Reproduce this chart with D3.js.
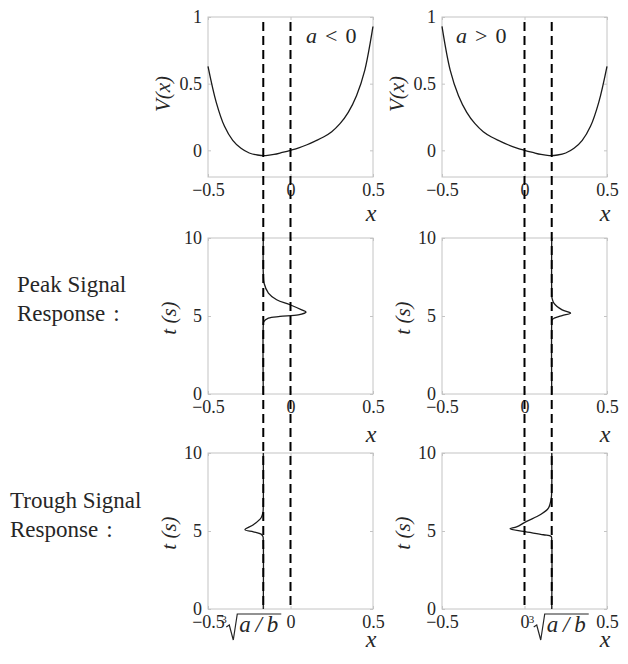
<!DOCTYPE html>
<html>
<head>
<meta charset="utf-8">
<script src="https://cdn.jsdelivr.net/npm/d3@7"></script>
</head>
<body style="margin:0;background:#fff">
<svg id="svg" width="628" height="664"></svg>
<script>
// potential V(x)
const potX   = [-0.5, -0.45, -0.4, -0.35, -0.3, -0.25, -0.2, -0.15, -0.1, -0.05, 0, 0.05, 0.1, 0.15, 0.2, 0.25, 0.3, 0.35, 0.4, 0.45, 0.5];
const potNeg = [0.63, 0.36, 0.18, 0.075, 0.015, -0.02, -0.035, -0.039, -0.031, -0.016, 0, 0.018, 0.042, 0.07, 0.1, 0.14, 0.2, 0.285, 0.41, 0.6, 0.93];
const potPos = [0.93, 0.6, 0.41, 0.285, 0.2, 0.14, 0.1, 0.07, 0.042, 0.018, 0, -0.016, -0.031, -0.039, -0.035, -0.02, 0.015, 0.075, 0.18, 0.36, 0.63];

// cube root of a/b (minimum of V)
const rootNeg = -0.165;
const rootPos = 0.165;

// responses: time t (s) and position x
const peakNegT   = [0, 4.4, 4.64, 4.86, 4.97, 5.07, 5.25, 5.39, 5.72, 6.04, 6.47, 7.1, 7.75, 10];
const peakNegX   = [-0.165, -0.165, -0.162, -0.134, -0.064, 0.047, 0.094, 0.068, -0.003, -0.084, -0.134, -0.16, -0.165, -0.165];
const peakPosT   = [0, 4.5, 4.75, 4.86, 5.03, 5.18, 5.39, 5.82, 6.15, 6.5, 10];
const peakPosX   = [0.165, 0.165, 0.167, 0.18, 0.228, 0.279, 0.228, 0.178, 0.167, 0.165, 0.165];
const troughNegT = [0, 4.4, 4.65, 4.8, 4.95, 5.08, 5.4, 5.85, 6.2, 6.6, 10];
const troughNegX = [-0.165, -0.165, -0.167, -0.178, -0.225, -0.276, -0.225, -0.178, -0.167, -0.165, -0.165];
const troughPosT = [0, 4.4, 4.65, 4.76, 4.97, 5.14, 5.26, 5.62, 6.04, 6.47, 7.1, 7.6, 10];
const troughPosX = [0.165, 0.165, 0.162, 0.115, -0.007, -0.088, -0.048, 0.013, 0.095, 0.145, 0.162, 0.165, 0.165];

const xTicks = [-0.5, 0, 0.5];
const vTicks = [0, 0.5, 1];
const tTicks = [0, 5, 10];

const FONT = "Liberation Serif";
const svg = d3.select("#svg");
const colX = [208, 442], panelW = 165;
const rows = [
  {top: 17,  h: 160, dom: [-0.2, 1], ticks: vTicks, title: "V(x)",  tx: -38, ty: -3, xLab: 44},
  {top: 238, h: 156, dom: [0, 10],   ticks: tTicks, title: "t (s)", tx: -32, ty: 2,  xLab: 48},
  {top: 453, h: 156, dom: [0, 10],   ticks: tTicks, title: "t (s)", tx: -32, ty: 2,  xLab: 38}
];

const panels = [
  {col: 0, row: 0, root: rootNeg, pot: potNeg, sign: "<", noteX: 98},
  {col: 1, row: 0, root: rootPos, pot: potPos, sign: ">", noteX: 14},
  {col: 0, row: 1, root: rootNeg, t: peakNegT, xs: peakNegX},
  {col: 1, row: 1, root: rootPos, t: peakPosT, xs: peakPosX},
  {col: 0, row: 2, root: rootNeg, t: troughNegT, xs: troughNegX, rootShift: -42},
  {col: 1, row: 2, root: rootPos, t: troughPosT, xs: troughPosX, rootShift: -23}
];

const x = d3.scaleLinear().domain([-0.5, 0.5]).range([0, panelW]);
const fmt = d => d === 0 ? "0" : (Number.isInteger(d) ? String(d) : d3.format(".1f")(d));

function styleAxis(a) {
  a.attr("font-size", 18).attr("font-family", FONT).attr("color", "#262626");
  a.select(".domain").remove();
  a.selectAll(".tick line").attr("stroke", "#c4c4c4");
}

function rootLabel(g, px, base) {
  const L = g.append("g").attr("transform", `translate(${px},${base})`);
  L.append("text").attr("x", 0).attr("y", -9).attr("font-size", 11).text("3");
  L.append("path").attr("d", "M5,-5 L8,-7 L12,8 L16,-18 L60,-18")
    .attr("fill", "none").attr("stroke", "#262626").attr("stroke-width", 1.2);
  L.append("text").attr("x", 18).attr("y", 0).attr("font-size", 23)
    .attr("font-style", "italic").attr("textLength", 39).attr("lengthAdjust", "spacing").text("a/b");
}

panels.forEach(p => {
  const r = rows[p.row];
  const y = d3.scaleLinear().domain(r.dom).range([r.h, 0]);
  const g = svg.append("g").attr("transform", `translate(${colX[p.col]},${r.top})`);

  g.append("rect").attr("width", panelW).attr("height", r.h)
    .attr("fill", "none").attr("stroke", "#c4c4c4");

  const xt = p.row === 2 ? [-0.5, p.root, 0, 0.5].sort((a, b) => a - b) : xTicks;
  g.append("g").attr("transform", `translate(0,${r.h})`)
    .call(d3.axisBottom(x).tickValues(xt).tickSizeInner(-3).tickSizeOuter(0).tickPadding(6)
      .tickFormat(d => d === p.root ? "" : fmt(d)))
    .call(styleAxis);
  g.append("g")
    .call(d3.axisTop(x).tickValues(xt).tickSizeInner(-3).tickSizeOuter(0).tickFormat(""))
    .call(styleAxis);
  g.append("g")
    .call(d3.axisLeft(y).tickValues(r.ticks).tickSizeInner(-3).tickSizeOuter(0).tickPadding(6).tickFormat(fmt))
    .call(styleAxis);
  g.append("g").attr("transform", `translate(${panelW},0)`)
    .call(d3.axisRight(y).tickValues(r.ticks).tickSizeInner(-3).tickSizeOuter(0).tickFormat(""))
    .call(styleAxis);

  if (p.rootShift !== undefined) rootLabel(g, x(p.root) + p.rootShift, r.h + 23);

  // curve
  const pts = p.pot ? potX.map((v, i) => [v, p.pot[i]]) : p.t.map((t, i) => [p.xs[i], t]);
  g.append("path").datum(pts)
    .attr("fill", "none").attr("stroke", "#1a1a1a").attr("stroke-width", 1.3)
    .attr("d", d3.line().x(d => x(d[0])).y(d => y(d[1])).curve(d3.curveCatmullRom.alpha(0.5)));

  // titles
  g.append("text").attr("x", 163).attr("y", r.h + r.xLab).attr("text-anchor", "middle")
    .attr("font-size", 24).attr("font-style", "italic").text("x");
  g.append("text").attr("transform", `translate(${r.tx},${r.h / 2 + r.ty}) rotate(-90)`)
    .attr("text-anchor", "middle").attr("font-size", 21).attr("font-style", "italic").text(r.title);

  if (p.sign) {
    const n = g.append("text").attr("x", p.noteX).attr("y", 26).attr("font-size", 22);
    n.append("tspan").attr("font-style", "italic").text("a");
    n.append("tspan").attr("dx", 8).text(p.sign);
    n.append("tspan").attr("dx", 8).text("0");
  }
});

// dashed guides through all three rows (x = 0 and x = cube root of a/b)
const yTop = rows[0].top + 5, yBot = rows[2].top + rows[2].h;
[[0, rootNeg], [0, 0], [1, 0], [1, rootPos]].forEach(([c, v]) => {
  svg.append("line")
    .attr("x1", colX[c] + x(v)).attr("x2", colX[c] + x(v))
    .attr("y1", yTop).attr("y2", yBot)
    .attr("stroke", "#000").attr("stroke-width", 2).attr("stroke-dasharray", "9,5");
});

// row captions
const captions = [
  {x: 17, y: 292, s: "Peak Signal"}, {x: 17, y: 321, s: "Response", colon: true},
  {x: 10, y: 508, s: "Trough Signal"}, {x: 10, y: 537, s: "Response", colon: true}
];
const cap = svg.selectAll("text.cap").data(captions).enter().append("text")
  .attr("class", "cap").attr("x", d => d.x).attr("y", d => d.y)
  .attr("font-size", 23).text(d => d.s);
cap.filter(d => d.colon).append("tspan").attr("dx", 8).text(":");

// serif everywhere, dark gray text
svg.selectAll("text").attr("font-family", FONT).attr("fill", "#262626");
</script>
</body>
</html>
